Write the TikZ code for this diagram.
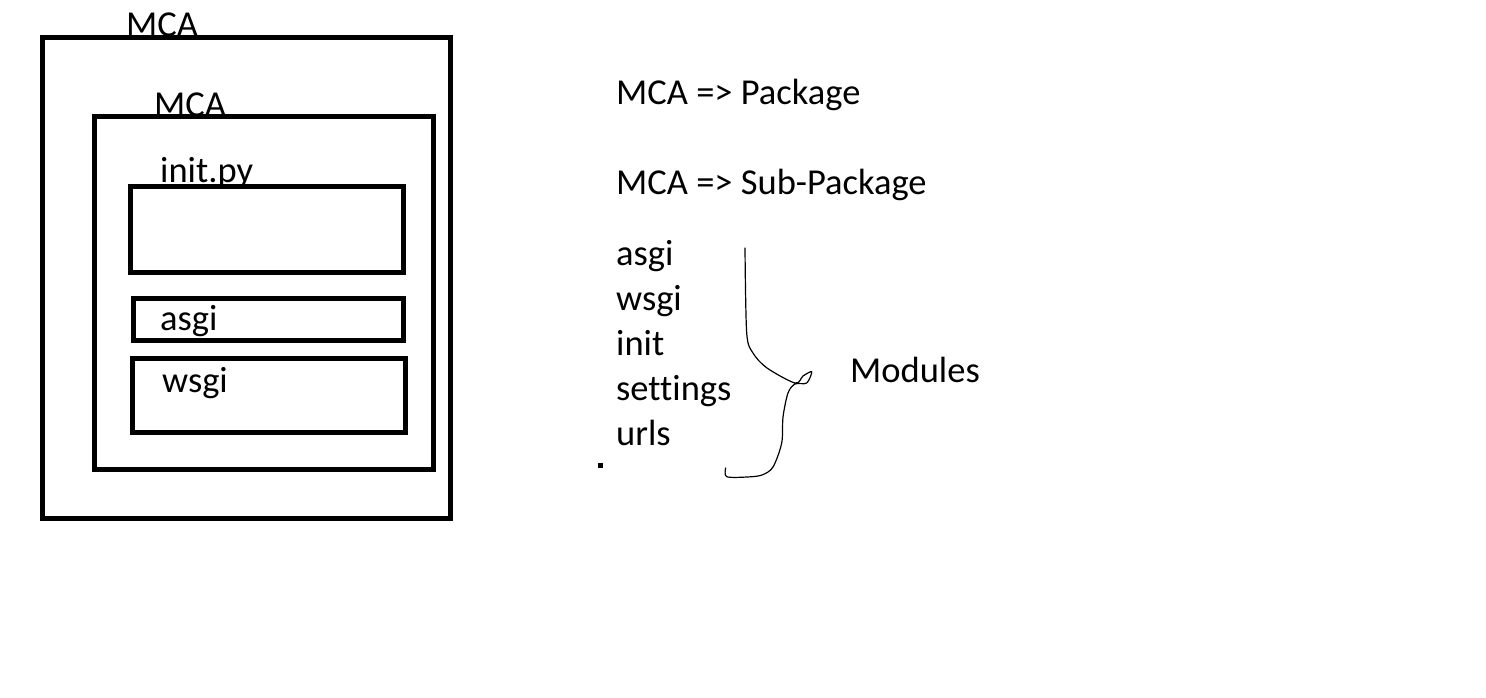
\documentclass[tikz,border=0pt]{standalone}
\usepackage{fontspec}
\setmainfont[Ligatures=NoCommon]{Carlito}
\tikzset{
  box/.style={draw=black, line width=5pt},
  lbl/.style={anchor=base west, inner sep=0pt, font=\fontsize{36.5}{40}\selectfont},
  curve/.style={draw=black, line width=1.2pt, line join=round, line cap=round}
}
\begin{document}
\begin{tikzpicture}[x=1pt,y=-1pt]
\useasboundingbox (0,0) rectangle (1486,697);
% left labels (drawn first so boxes overlap them)
\node[lbl] (mca1) at (126,36) {MCA};
\node[lbl] (mca2) at (154,116) {MCA};
\node[lbl] (initpy) at (160,182) {init.py};
\node[lbl] (asgil) at (160,330) {asgi};
\node[lbl] (wsgil) at (162,392) {wsgi};
% boxes
\draw[box] (42,37) rectangle (450,518);
\draw[box] (94,116) rectangle (433,469);
\draw[box] (130,186) rectangle (403,272);
\draw[box] (133,298) rectangle (403,340);
\draw[box] (132,358) rectangle (405,432);
% right side texts
\node[lbl] (pkg) at (616,104) {MCA => Package};
\node[lbl] (sub) at (616,194) {MCA => Sub-Package};
\node[lbl] (m1) at (616,265) {asgi};
\node[lbl] (m2) at (616,310) {wsgi};
\node[lbl] (m3) at (616,355) {init};
\node[lbl] (m4) at (616,400) {settings};
\node[lbl] (m5) at (616,445) {urls};
\node[lbl] (mods) at (850,382) {Modules};
\fill[black] (598,463) rectangle (603,468);
% hand-drawn brace
\draw[curve] plot[smooth, tension=0.5] coordinates {
  (745,248) (746.7,333) (753,353) (767,368) (795,383) (803,376) (811.7,371.7) (806.7,383) (795,384)
  (788,393) (783,417) (781.7,443) (773,467) (762,475) (747,477) (726.7,476.7) (725.7,468)};
\end{tikzpicture}
\end{document}
